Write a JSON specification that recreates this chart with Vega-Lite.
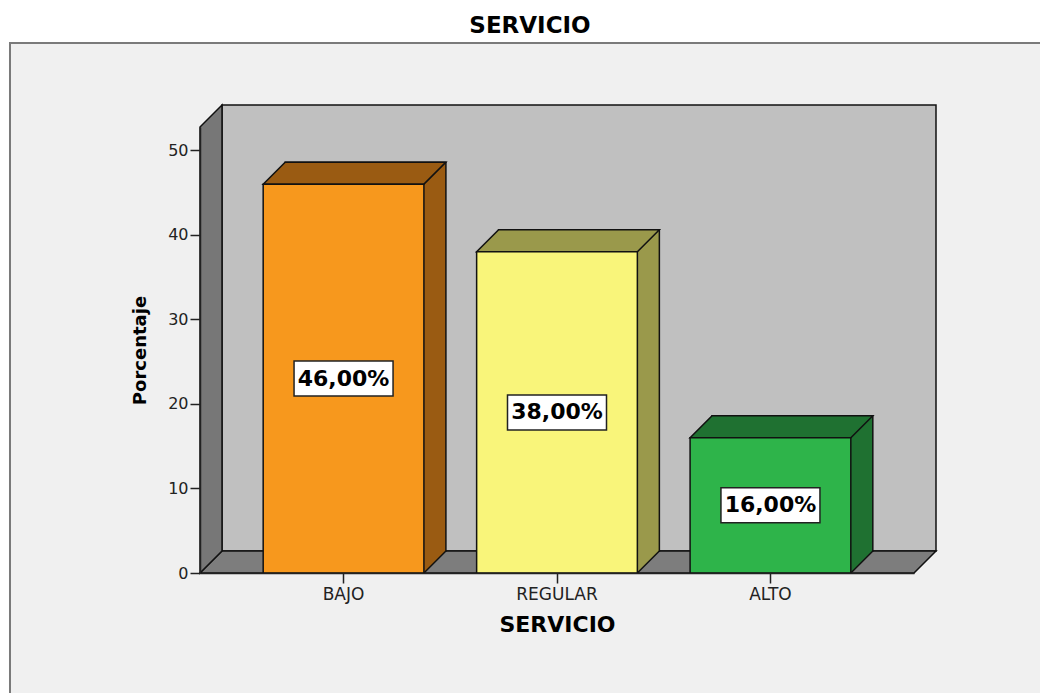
{
  "$schema": "https://vega.github.io/schema/vega-lite/v6.json",
  "width": 714,
  "height": 446,
  "autosize": {"type": "none"},
  "padding": {"left": 200, "top": 127, "right": 126, "bottom": 120},
  "background": "white",
  "title": {"text": "SERVICIO", "font": "DejaVu Sans", "fontSize": 23, "fontWeight": "bold", "color": "#000", "anchor": "middle", "dx": -27, "offset": 1},
  "config": {
    "view": {"stroke": null},
    "scale": {"bandPaddingInner": 0.247, "bandPaddingOuter": 0.296},
    "axisX": {"domainColor": "#222", "domainWidth": 1.5, "tickColor": "#222", "tickWidth": 1.5, "tickSize": 10, "labelFont": "DejaVu Sans", "labelFontSize": 17, "labelColor": "#222", "labelPadding": 3, "labelAngle": 0, "titleFont": "DejaVu Sans", "titleFontSize": 22, "titleFontWeight": "bold", "titleColor": "#000", "titlePadding": 12, "grid": false},
    "axisY": {"domainColor": "#222", "domainWidth": 1.5, "tickColor": "#222", "tickWidth": 1.5, "tickSize": 10, "labelFont": "DejaVu Sans", "labelFontSize": 16, "labelColor": "#222", "labelPadding": 2, "titleFont": "DejaVu Sans", "titleFontSize": 18, "titleFontWeight": "bold", "titleColor": "#000", "titlePadding": 18, "grid": false}
  },
  "data": {"values": [
    {"SERVICIO": "BAJO", "Porcentaje": 46},
    {"SERVICIO": "REGULAR", "Porcentaje": 38},
    {"SERVICIO": "ALTO", "Porcentaje": 16}
  ]},
  "layer": [
    {
      "layer": [
        {
          "data": {"values": [{}]},
          "mark": {"type": "point", "shape": "M-333.55,-530 L701.45,-530 L701.45,127 L-333.55,127 Z", "size": 4, "filled": true, "fill": "#f0f0f0", "stroke": "#7a7a7a", "strokeWidth": 2, "opacity": 1},
          "encoding": {
            "x": {"datum": "BAJO", "type": "nominal", "scale": {"domain": ["BAJO", "REGULAR", "ALTO"]}, "title": "SERVICIO", "axis": {"zindex": 1}},
            "y": {"datum": 0, "type": "quantitative", "scale": {"domain": [0, 52.76], "nice": false}, "title": "Porcentaje", "axis": {"values": [0, 10, 20, 30, 40, 50], "zindex": 1}}
          }
        },
        {
          "data": {"values": [{}]},
          "mark": {"type": "point", "shape": "M-121.55,-22 L-121.55,-468 L592.45,-468 L592.45,-22 Z", "size": 4, "filled": true, "fill": "#c0c0c0", "stroke": "#111", "strokeWidth": 1.5, "opacity": 1},
          "encoding": {
            "x": {"datum": "BAJO", "type": "nominal", "scale": {"domain": ["BAJO", "REGULAR", "ALTO"]}, "title": "SERVICIO", "axis": {"zindex": 1}},
            "y": {"datum": 0, "type": "quantitative", "scale": {"domain": [0, 52.76], "nice": false}, "title": "Porcentaje", "axis": {"values": [0, 10, 20, 30, 40, 50], "zindex": 1}}
          }
        },
        {
          "data": {"values": [{}]},
          "mark": {"type": "point", "shape": "M-143.55,0 L-121.55,-22 L592.45,-22 L570.45,0 Z", "size": 4, "filled": true, "fill": "#7d7d7d", "stroke": "#111", "strokeWidth": 1.5, "opacity": 1},
          "encoding": {
            "x": {"datum": "BAJO", "type": "nominal", "scale": {"domain": ["BAJO", "REGULAR", "ALTO"]}, "title": "SERVICIO", "axis": {"zindex": 1}},
            "y": {"datum": 0, "type": "quantitative", "scale": {"domain": [0, 52.76], "nice": false}, "title": "Porcentaje", "axis": {"values": [0, 10, 20, 30, 40, 50], "zindex": 1}}
          }
        },
        {
          "data": {"values": [{}]},
          "mark": {"type": "point", "shape": "M-143.55,0 L-143.55,-446 L-121.55,-468 L-121.55,-22 Z", "size": 4, "filled": true, "fill": "#777777", "stroke": "#111", "strokeWidth": 1.5, "opacity": 1},
          "encoding": {
            "x": {"datum": "BAJO", "type": "nominal", "scale": {"domain": ["BAJO", "REGULAR", "ALTO"]}, "title": "SERVICIO", "axis": {"zindex": 1}},
            "y": {"datum": 0, "type": "quantitative", "scale": {"domain": [0, 52.76], "nice": false}, "title": "Porcentaje", "axis": {"values": [0, 10, 20, 30, 40, 50], "zindex": 1}}
          }
        },
        {
          "mark": {"type": "bar", "xOffset": 22, "yOffset": -22, "y2Offset": -22, "stroke": "#111", "strokeWidth": 1.5, "opacity": 1},
          "encoding": {
            "x": {"field": "SERVICIO", "type": "nominal", "scale": {"domain": ["BAJO", "REGULAR", "ALTO"]}, "title": "SERVICIO", "axis": {"zindex": 1}},
            "y": {"field": "Porcentaje", "type": "quantitative", "scale": {"domain": [0, 52.76], "nice": false}, "title": "Porcentaje", "axis": {"values": [0, 10, 20, 30, 40, 50], "zindex": 1}},
            "fill": {"condition": [{"test": "datum.SERVICIO === 'BAJO'", "value": "#9a5b12"}, {"test": "datum.SERVICIO === 'REGULAR'", "value": "#9a994b"}], "value": "#1f7131"}
          }
        },
        {
          "mark": {"type": "point", "shape": "M80.37,-23 L80.37,0 L101.62,-21.25 L101.62,-23 Z", "size": 4, "filled": true, "strokeWidth": 0, "opacity": 1},
          "encoding": {
            "x": {"field": "SERVICIO", "type": "nominal", "scale": {"domain": ["BAJO", "REGULAR", "ALTO"]}, "title": "SERVICIO", "axis": {"zindex": 1}},
            "y": {"datum": 0, "type": "quantitative", "scale": {"domain": [0, 52.76], "nice": false}, "title": "Porcentaje", "axis": {"values": [0, 10, 20, 30, 40, 50], "zindex": 1}},
            "fill": {"condition": [{"test": "datum.SERVICIO === 'BAJO'", "value": "#9a5b12"}, {"test": "datum.SERVICIO === 'REGULAR'", "value": "#9a994b"}], "value": "#1f7131"}
          }
        },
        {
          "mark": {"type": "point", "shape": "M80.37,0 L102.37,-22", "size": 4, "filled": false, "stroke": "#111", "strokeWidth": 1.5, "opacity": 1},
          "encoding": {
            "x": {"field": "SERVICIO", "type": "nominal", "scale": {"domain": ["BAJO", "REGULAR", "ALTO"]}, "title": "SERVICIO", "axis": {"zindex": 1}},
            "y": {"datum": 0, "type": "quantitative", "scale": {"domain": [0, 52.76], "nice": false}, "title": "Porcentaje", "axis": {"values": [0, 10, 20, 30, 40, 50], "zindex": 1}}
          }
        },
        {
          "mark": {"type": "point", "shape": "M-80.37,0 L80.37,0 L102.37,-22 L-58.37,-22 Z", "size": 4, "filled": true, "stroke": "#111", "strokeWidth": 1.5, "opacity": 1},
          "encoding": {
            "x": {"field": "SERVICIO", "type": "nominal", "scale": {"domain": ["BAJO", "REGULAR", "ALTO"]}, "title": "SERVICIO", "axis": {"zindex": 1}},
            "y": {"field": "Porcentaje", "type": "quantitative", "scale": {"domain": [0, 52.76], "nice": false}, "title": "Porcentaje", "axis": {"values": [0, 10, 20, 30, 40, 50], "zindex": 1}},
            "fill": {"condition": [{"test": "datum.SERVICIO === 'BAJO'", "value": "#9a5b12"}, {"test": "datum.SERVICIO === 'REGULAR'", "value": "#9a994b"}], "value": "#1f7131"}
          }
        },
        {
          "mark": {"type": "bar", "stroke": "#111", "strokeWidth": 1.5, "opacity": 1},
          "encoding": {
            "x": {"field": "SERVICIO", "type": "nominal", "scale": {"domain": ["BAJO", "REGULAR", "ALTO"]}, "title": "SERVICIO", "axis": {"zindex": 1}},
            "y": {"field": "Porcentaje", "type": "quantitative", "scale": {"domain": [0, 52.76], "nice": false}, "title": "Porcentaje", "axis": {"values": [0, 10, 20, 30, 40, 50], "zindex": 1}},
            "fill": {"condition": [{"test": "datum.SERVICIO === 'BAJO'", "value": "#f7981d"}, {"test": "datum.SERVICIO === 'REGULAR'", "value": "#f9f57a"}], "value": "#2eb44a"}
          }
        }
      ]
    },
    {
      "layer": [
        {
          "mark": {"type": "point", "shape": "M-49.5,-17.5 L49.5,-17.5 L49.5,17.5 L-49.5,17.5 Z", "size": 4, "filled": true, "fill": "white", "stroke": "#222", "strokeWidth": 1.5, "opacity": 1},
          "encoding": {
            "x": {"field": "SERVICIO", "type": "nominal", "scale": {"domain": ["BAJO", "REGULAR", "ALTO"]}, "title": "SERVICIO", "axis": {"zindex": 1}},
            "y": {"field": "Porcentaje", "type": "quantitative", "scale": {"domain": [0, 105.52], "nice": false}, "axis": null}
          }
        },
        {
          "mark": {"type": "text", "font": "DejaVu Sans", "fontSize": 22, "fontWeight": "bold", "color": "#000", "align": "center", "baseline": "middle", "text": {"expr": "replace(format(datum.Porcentaje, '.2f'), '.', ',') + '%'"}},
          "encoding": {
            "x": {"field": "SERVICIO", "type": "nominal", "scale": {"domain": ["BAJO", "REGULAR", "ALTO"]}, "title": "SERVICIO", "axis": {"zindex": 1}},
            "y": {"field": "Porcentaje", "type": "quantitative", "scale": {"domain": [0, 105.52], "nice": false}, "axis": null}
          }
        }
      ]
    }
  ],
  "resolve": {"scale": {"y": "independent"}}
}
